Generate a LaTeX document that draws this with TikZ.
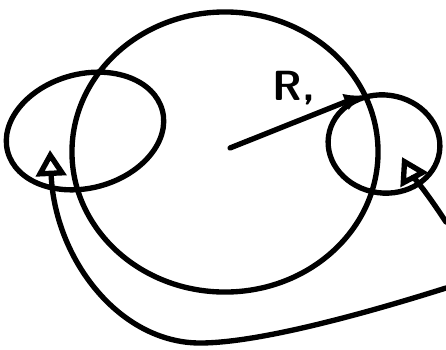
\documentclass[tikz,border=0pt]{standalone}
\usetikzlibrary{arrows.meta,shapes.geometric}

\begin{document}
\begin{tikzpicture}[x=0.025cm,y=-0.025cm,line cap=round,line join=round,
  pen/.style={line width=3.8pt,black},
  ring/.style={pen,draw,ellipse,inner sep=0pt},
  hollow/.style={pen,-{Triangle[open,length=6.5mm,width=7.5mm]}}]
  \useasboundingbox (0,0) rectangle (446,349);
  % sphere and the two loops
  \node[ring,minimum width=7.65cm,minimum height=7cm] (body) at (225,152) {};
  \node[ring,minimum width=4cm,minimum height=2.85cm,rotate=15] (lring) at (85,131) {};
  \node[ring,minimum width=2.8cm,minimum height=2.45cm,rotate=-8] (rring) at (384,144) {};
  \coordinate (ctr) at (230,148);
  \coordinate (lt) at (50,150);
  \coordinate (rt) at (402,157);
  \coordinate (rb) at (446,288);
  \coordinate (bot) at (200,343);
  \coordinate (rs) at (446,222);
  % radius
  \draw[pen,-{Latex[length=4.5mm,width=4.5mm]}] (ctr) -- (rring.122);
  \node[font=\fontsize{30}{30}\selectfont\sffamily\bfseries] (lbl) at (294,88) {R,};
  % return paths
  \draw[hollow] (rb) .. controls (370,312) and (260,343) .. (bot)
    .. controls (120,343) and (55,260) .. (lt);
  \draw[hollow] (rs) .. controls (425,190) and (410,172) .. (rt);
\end{tikzpicture}
\end{document}
